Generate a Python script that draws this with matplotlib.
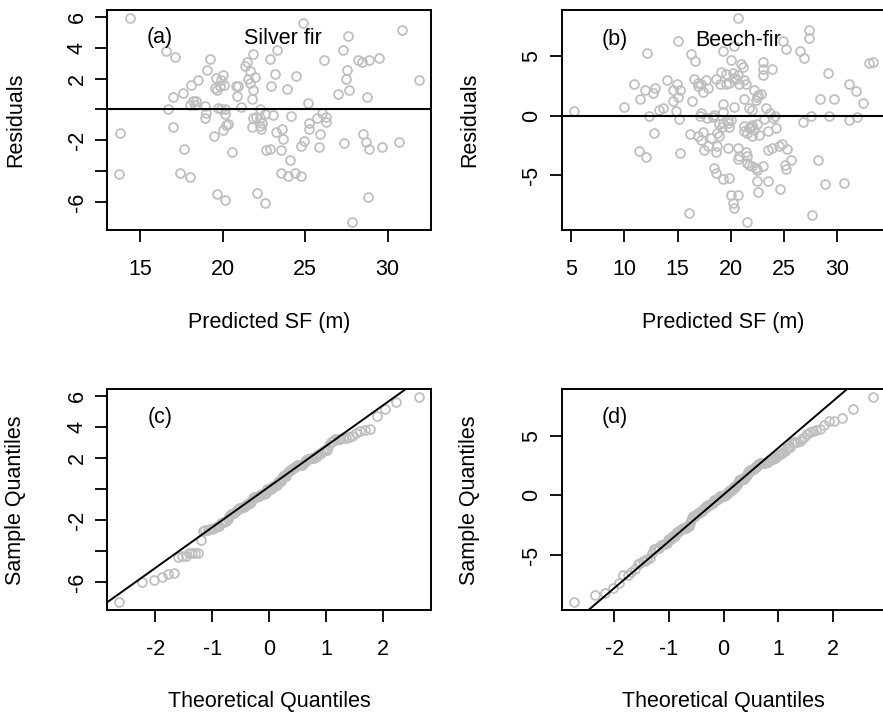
import matplotlib
matplotlib.use('Agg')
import matplotlib.pyplot as plt
import numpy as np
from statistics import NormalDist

plt.rcParams['font.family'] = ['Liberation Sans', 'DejaVu Sans']

# silver fir: predicted height vs residual
sf_pred = [14.39, 24.88, 30.87, 27.61, 16.54, 17.11, 19.21, 21.82, 23.32, 22.89,
           21.50, 21.38, 26.13, 27.30, 28.18, 28.42, 28.89, 29.49, 27.53, 27.47,
           27.67, 27.00, 28.72, 31.90, 19.07, 19.60, 20.00, 20.06, 19.66, 19.82,
           18.48, 18.08, 17.59, 17.02, 18.20, 18.04, 18.30, 18.95, 16.68, 20.83,
           20.93, 20.85, 21.52, 21.94, 21.86, 21.80, 21.09, 19.72, 20.12, 20.16,
           19.01, 18.91, 23.16, 22.96, 23.93, 24.43, 25.16, 22.29, 21.84, 22.04,
           22.59, 23.06, 24.15, 22.39, 21.80, 22.35, 20.22, 20.02, 19.47, 16.98,
           13.81, 17.65, 20.55, 23.22, 23.62, 23.66, 25.22, 25.24, 25.69, 26.00,
           26.26, 26.26, 25.89, 24.92, 24.76, 25.85, 22.65, 22.89, 23.56, 24.11,
           27.37, 28.52, 28.66, 28.89, 29.66, 30.69, 13.74, 17.43, 18.00, 23.56,
           23.97, 24.37, 24.72, 19.68, 20.14, 22.09, 22.55, 28.83, 27.81, 19.92,
           19.51, 21.64, 21.64, 22.25, 22.25, 18.40, 19.92, 20.32]
sf_resid = [5.91, 5.59, 5.16, 4.73, 3.76, 3.40, 3.27, 3.61, 3.87, 3.27,
            3.05, 2.84, 3.23, 3.83, 3.23, 3.10, 3.23, 3.33, 2.54, 2.00,
            1.25, 1.03, 0.82, 1.89, 2.54, 2.02, 2.26, 1.57, 1.25, 1.55,
            1.94, 1.61, 1.08, 0.82, 0.54, 0.28, 0.26, 0.22, 0.00, 1.51,
            1.55, 0.86, 1.98, 2.09, 1.29, 0.69, 0.17, 0.11, 0.00, -0.32,
            -0.22, -0.58, 2.32, 1.55, 1.33, 2.19, 0.43, 0.00, -0.54, -0.47,
            -0.32, -0.37, -0.39, -0.90, -1.14, -1.29, -1.01, -1.33, -1.72, -1.14,
            -1.55, -2.58, -2.73, -1.46, -1.25, -1.94, -0.90, -1.25, -0.54, -0.22,
            -0.47, -0.82, -1.61, -2.04, -2.37, -2.41, -2.62, -2.58, -2.62, -3.27,
            -2.19, -1.61, -2.11, -2.54, -2.43, -2.11, -4.15, -4.09, -4.37, -4.09,
            -4.30, -4.13, -4.30, -5.48, -5.85, -5.38, -6.02, -5.66, -7.27, 1.94,
            1.40, 1.72, 2.47, -0.54, -1.08, 0.54, 0.00, -0.97]

# beech-fir: predicted height vs residual
bf_pred = [20.69, 27.38, 27.38, 15.00, 20.31, 19.31, 24.91, 25.16, 26.50, 26.88,
           12.13, 16.25, 16.63, 20.00, 20.94, 21.16, 22.99, 23.06, 23.90, 23.00,
           32.97, 33.38, 29.13, 19.06, 19.59, 20.22, 20.63, 20.31, 21.25, 21.38,
           18.59, 17.66, 16.50, 16.94, 16.88, 17.41, 19.00, 19.81, 13.97, 14.94,
           15.22, 14.56, 15.00, 14.56, 14.88, 10.88, 11.97, 12.88, 12.66, 11.50,
           10.00, 13.28, 13.63, 12.34, 5.25, 16.34, 22.19, 22.81, 22.50, 21.25,
           21.72, 22.03, 20.31, 19.28, 19.25, 18.44, 17.09, 17.75, 15.13, 31.13,
           31.75, 32.38, 28.38, 29.69, 29.25, 27.50, 26.75, 31.13, 31.88, 23.63,
           24.00, 24.13, 23.13, 21.88, 21.25, 22.13, 21.25, 22.50, 23.44, 24.22,
           20.00, 19.69, 19.13, 18.91, 18.69, 18.91, 18.13, 17.34, 16.88, 17.19,
           16.13, 12.75, 11.34, 12.06, 15.25, 17.50, 17.81, 18.63, 18.69, 19.75,
           20.69, 21.44, 20.69, 21.56, 22.03, 22.41, 23.06, 23.44, 23.84, 24.56,
           24.84, 25.31, 25.63, 25.06, 25.16, 28.19, 18.44, 18.59, 19.31, 19.84,
           22.41, 23.44, 22.56, 24.63, 28.81, 30.63, 20.00, 20.69, 20.16, 20.31,
           16.09, 27.66, 21.47, 19.53, 20.78, 20.47, 17.19, 17.81, 22.56, 22.34,
           23.28, 17.19, 18.28, 19.69, 19.22, 19.84, 21.72, 22.03, 22.03, 22.66,
           21.56, 20.78, 21.56, 21.72, 22.34]
bf_resid = [8.19, 7.19, 6.50, 6.25, 5.89, 5.47, 6.25, 5.56, 5.42, 4.86,
            5.28, 5.14, 4.58, 4.69, 4.36, 4.08, 4.50, 3.94, 3.94, 3.39,
            4.44, 4.50, 3.61, 3.67, 3.47, 3.58, 3.39, 3.19, 2.97, 2.69,
            3.06, 2.97, 3.11, 2.75, 2.47, 2.00, 2.64, 2.75, 3.03, 2.64,
            2.19, 2.14, 1.58, 1.25, 0.42, 2.69, 2.19, 2.36, 1.94, 1.39,
            0.75, 0.47, 0.67, 0.00, 0.39, 1.25, 2.14, 1.86, 1.53, 1.39,
            0.61, 0.47, 0.75, 0.97, 0.33, 0.06, 0.00, -0.22, -0.28, 2.69,
            2.08, 1.03, 1.39, 1.39, -0.03, -0.03, -0.50, -0.36, -0.08, 0.19,
            -0.22, -0.03, -0.31, -0.92, -0.83, -1.19, -1.33, -0.69, -1.33, -1.06,
            -0.36, -0.64, -0.92, -0.69, -1.47, -1.75, -1.89, -1.39, -1.75, -2.03,
            -1.56, -1.44, -3.00, -3.50, -3.14, -2.86, -2.58, -3.06, -2.58, -2.72,
            -2.72, -3.08, -3.64, -3.97, -4.19, -4.53, -4.19, -2.92, -2.72, -2.58,
            -2.36, -2.78, -3.69, -4.11, -4.47, -3.75, -4.39, -4.81, -5.36, -5.22,
            -5.50, -5.50, -6.42, -6.19, -5.78, -5.69, -6.69, -6.67, -7.36, -7.78,
            -8.19, -8.36, -8.92, 2.69, 2.69, 3.11, 2.69, 2.36, 1.72, 1.31,
            0.61, 0.19, -0.08, -0.36, -0.64, -0.92, -1.06, -0.78, -1.75, -1.61,
            -1.47, -3.42, -3.42, -4.11, -4.39]

W, H = 883, 714
fig = plt.figure(figsize=(W / 100, H / 100), dpi=100)
GREY = '#BEBEBE'
FS = 15.5


def px_axes(l, t, r, b):
    return fig.add_axes([l / W, 1 - b / H, (r - l) / W, (b - t) / H])


def ftext(x, y, s, **kw):
    fig.text(x / W, 1 - y / H, s, fontsize=FS, ha='center', va='center', **kw)


def style(ax, xticks, yticks, ylabels):
    ax.margins(0.04)
    ax.set_xticks(xticks)
    ax.set_xticklabels([str(t) for t in xticks])
    ax.set_yticks(yticks)
    ax.set_yticklabels(ylabels, rotation=90, va='center')
    ax.tick_params(axis='both', direction='out', length=8.6, width=1.3, labelsize=FS)
    ax.tick_params(axis='x', pad=12)
    ax.tick_params(axis='y', pad=5.5)
    for s in ax.spines.values():
        s.set_linewidth(1.4)


def qq(r):
    r = np.sort(np.asarray(r))
    n = len(r)
    a = 3 / 8 if n <= 10 else 0.5
    nd = NormalDist()
    p = (np.arange(1, n + 1) - a) / (n + 1 - 2 * a)
    q = np.array([nd.inv_cdf(v) for v in p])
    y1, y3 = np.quantile(r, [0.25, 0.75])
    x1, x3 = nd.inv_cdf(0.25), nd.inv_cdf(0.75)
    slope = (y3 - y1) / (x3 - x1)
    return q, r, slope, y1 - slope * x1


mk = dict(ls='none', marker='o', ms=6.4, mfc='none', mec=GREY, mew=1.25)

# (a)
ax = px_axes(107.3, 10, 431, 230)
ax.plot(sf_pred, sf_resid, **mk)
ax.axhline(0, color='black', lw=1.5)
style(ax, [15, 20, 25, 30], [6, 4, 2, 0, -2, -4, -6], ['6', '4', '2', '', '-2', '', '-6'])

# (b)
ax = px_axes(561.7, 10, 885.4, 230)
ax.plot(bf_pred, bf_resid, **mk)
ax.axhline(0, color='black', lw=1.5)
style(ax, [5, 10, 15, 20, 25, 30], [5, 0, -5], ['5', '0', '-5'])

# (c)
ax = px_axes(107.3, 389.3, 431, 610)
q, r, sl, ic = qq(sf_resid)
ax.plot(q, r, **mk)
ax.axline((0, ic), slope=sl, color='black', lw=1.4)
style(ax, [-2, -1, 0, 1, 2], [6, 4, 2, 0, -2, -4, -6], ['6', '4', '2', '', '-2', '', '-6'])

# (d)
ax = px_axes(561.7, 389.3, 885.4, 610)
q, r, sl, ic = qq(bf_resid)
ax.plot(q, r, **mk)
ax.axline((0, ic), slope=sl, color='black', lw=1.4)
style(ax, [-2, -1, 0, 1, 2], [5, 0, -5], ['5', '0', '-5'])

ftext(160, 38, '(a)')
ftext(283, 38, 'Silver fir')
ftext(615, 40, '(b)')
ftext(738, 40, 'Beech-fir')
ftext(160, 418, '(c)')
ftext(615, 418, '(d)')

for x0, bx in [(16, 269), (470, 723.5)]:
    ftext(x0, 120, 'Residuals', rotation=90)
    ftext(bx, 323, 'Predicted SF (m)')
    ftext(x0, 500, 'Sample Quantiles', rotation=90)
    ftext(bx, 702, 'Theoretical Quantiles')

fig.savefig('out.png', dpi=100)
